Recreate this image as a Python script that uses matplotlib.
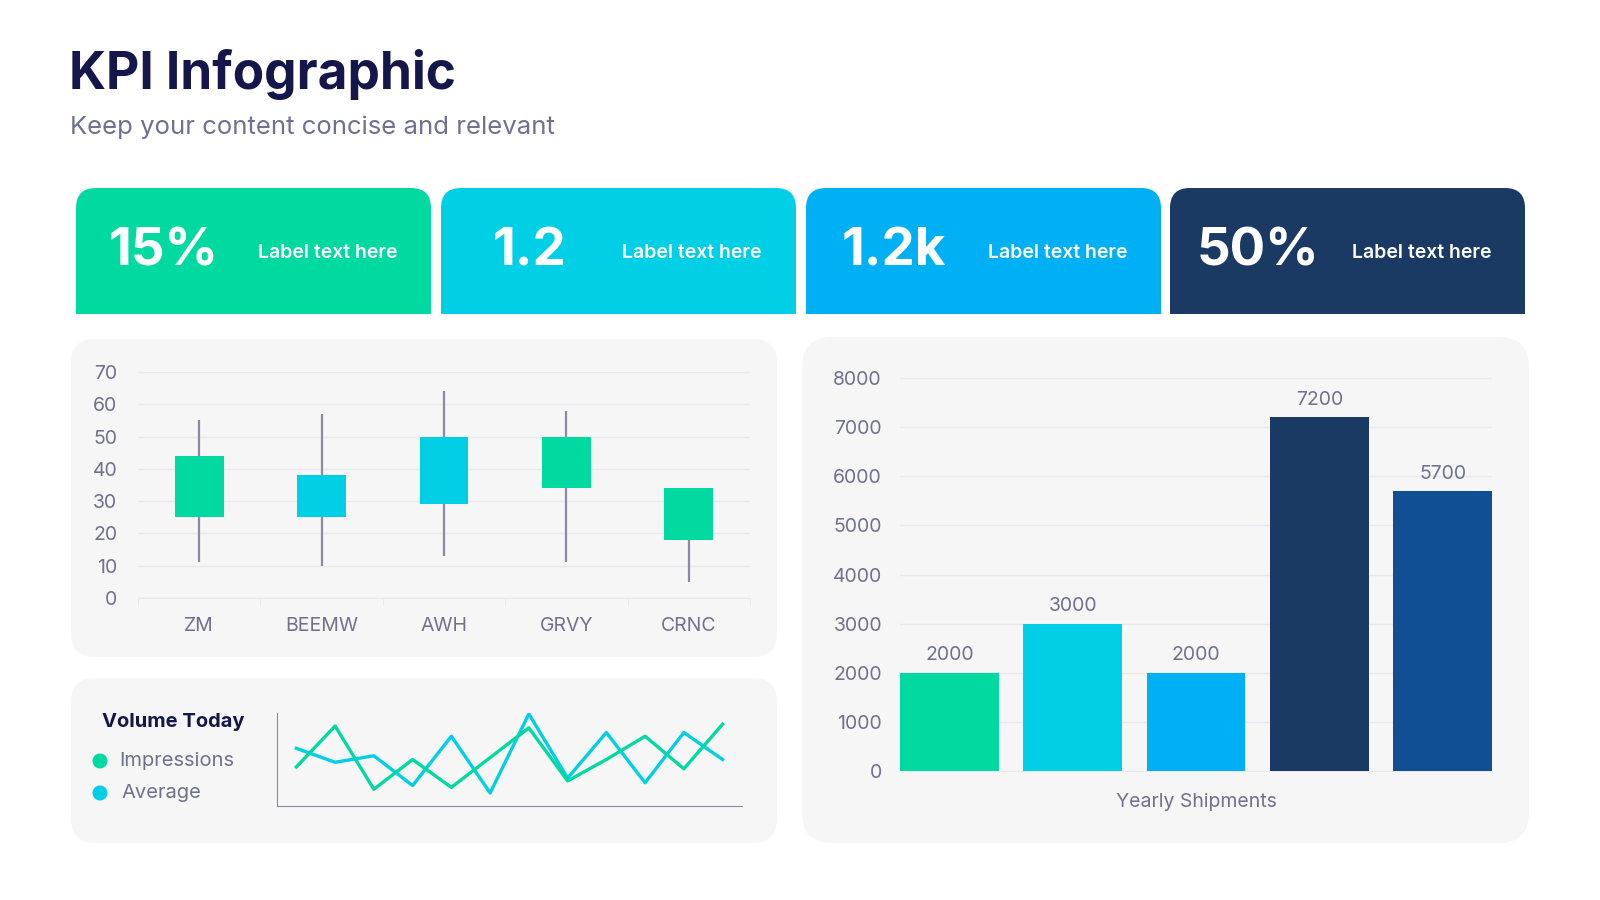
import matplotlib
matplotlib.use("Agg")
import matplotlib.pyplot as plt
from matplotlib.patches import FancyBboxPatch, Rectangle, Circle

plt.rcParams['font.family'] = ['Inter', 'DejaVu Sans']

# ---- data ----
kpi_values = ['15%', '1.2', '1.2k', '50%']
kpi_labels = ['Label text here', 'Label text here', 'Label text here', 'Label text here']

tickers = ['ZM', 'BEEMW', 'AWH', 'GRVY', 'CRNC']
opens = [25, 38, 50, 34, 18]
closes = [44, 25, 29, 50, 34]
highs = [55, 57, 64, 58, 34]
lows = [11, 10, 13, 11, 5]

impressions = [42, 86, 18, 50, 20, 52, 84, 27, 50, 75, 40, 88]
average = [62, 47, 54, 22, 75, 14, 99, 30, 79, 25, 79, 50]

shipments = [2000, 3000, 2000, 7200, 5700]

# ---- colours ----
GREEN = '#00D9A0'
CYAN = '#00CFE6'
SKY = '#00B0F5'
NAVY = '#1A3A64'
BLUE = '#114F94'
TITLE = '#15174A'
GREY = '#6E7191'
TICK = '#70718A'
PANEL = '#F6F6F7'
GRID = '#E8E8EE'
WICK = '#8A8BA3'

W, H = 1600, 900
fig = plt.figure(figsize=(16, 9), dpi=100)
fig.patch.set_facecolor('white')

bg = fig.add_axes([0, 0, 1, 1])
bg.set_xlim(0, W)
bg.set_ylim(H, 0)
bg.axis('off')


def px_axes(left, top, right, bottom):
    return fig.add_axes([left / W, (H - bottom) / H, (right - left) / W, (bottom - top) / H])


def rounded(x0, y0, x1, y1, color, r=24):
    p = FancyBboxPatch((x0 + r, y0 + r), (x1 - x0) - 2 * r, (y1 - y0) - 2 * r,
                       boxstyle='round,pad=%d' % r, fc=color, ec='none')
    bg.add_patch(p)


# title
bg.text(69, 74, 'KPI Infographic', fontsize=37, fontweight='bold', color=TITLE, va='center')
bg.text(70, 127, 'Keep your content concise and relevant', fontsize=18.5, color=GREY, va='center')

# kpi cards
card_colors = [GREEN, CYAN, SKY, NAVY]
card_left = [76, 441, 806, 1170]
for i in range(4):
    x0 = card_left[i]
    x1 = x0 + 355
    rounded(x0, 188, x1, 314, card_colors[i], r=20)
    bg.add_patch(Rectangle((x0, 260), 355, 54, fc=card_colors[i], ec='none'))
    bg.text(x0 + 88, 252, kpi_values[i], fontsize=38, fontweight='bold', color='white',
            ha='center', va='center')
    bg.text(x1 - 34, 253, kpi_labels[i], fontsize=14, fontweight='semibold', color='white',
            ha='right', va='center')

# panels
rounded(71, 339, 777, 657, PANEL, r=24)
rounded(71, 678, 777, 843, PANEL, r=24)
rounded(802, 337, 1529, 843, PANEL, r=30)

# ---- candlestick ----
ax1 = px_axes(138, 372, 750, 598)
ax1.set_facecolor('none')
x = range(len(tickers))
ax1.vlines(x, lows, highs, color=WICK, lw=1.6, zorder=2)
body_colors = [GREEN if c >= o else CYAN for o, c in zip(opens, closes)]
ax1.bar(x, [abs(c - o) for o, c in zip(opens, closes)],
        bottom=[min(o, c) for o, c in zip(opens, closes)],
        width=0.4, color=body_colors, zorder=3)
ax1.set_xlim(-0.5, 4.5)
ax1.set_ylim(0, 70)
ax1.set_yticks(range(0, 71, 10))
ax1.set_xticks(list(x))
ax1.set_xticklabels(tickers)
ax1.set_xticks([i - 0.5 for i in range(6)], minor=True)
ax1.grid(axis='y', color=GRID, lw=1)
ax1.set_axisbelow(True)
for s in ['top', 'right', 'left']:
    ax1.spines[s].set_visible(False)
ax1.spines['bottom'].set_color(GRID)
ax1.tick_params(axis='both', which='major', length=0, labelsize=14, labelcolor=TICK)
ax1.tick_params(axis='y', pad=15)
ax1.tick_params(axis='x', pad=14)
ax1.tick_params(axis='x', which='minor', length=6, color=GRID)

# ---- line chart ----
ax2 = px_axes(277, 713, 742, 806)
ax2.set_facecolor('none')
ax2.plot(range(len(impressions)), impressions, color=GREEN, lw=2.4, zorder=3)
ax2.plot(range(len(average)), average, color=CYAN, lw=2.4, zorder=2)
ax2.set_xlim(-0.5, 11.5)
ax2.set_ylim(0, 100)
ax2.set_xticks([])
ax2.set_yticks([])
for s in ['top', 'right']:
    ax2.spines[s].set_visible(False)
ax2.spines['left'].set_color(WICK)
ax2.spines['bottom'].set_color(WICK)

bg.text(102, 722, 'Volume Today', fontsize=14.5, fontweight='bold', color=TITLE, va='center')
bg.add_patch(Circle((100, 761), 7.5, fc=GREEN, ec='none'))
bg.add_patch(Circle((100, 793), 7.5, fc=CYAN, ec='none'))
bg.text(119, 761, 'Impressions', fontsize=14.5, color=TICK, va='center')
bg.text(121, 793, 'Average', fontsize=14.5, color=TICK, va='center')

# ---- bar chart ----
ax3 = px_axes(900, 378, 1492, 771)
ax3.set_facecolor('none')
bar_colors = [GREEN, CYAN, SKY, NAVY, BLUE]
bars = ax3.bar(range(len(shipments)), shipments, width=0.8, color=bar_colors, zorder=3)
for b, v in zip(bars, shipments):
    ax3.annotate(str(v), (b.get_x() + b.get_width() / 2, v), xytext=(0, 6),
                 textcoords='offset points', ha='center', va='bottom',
                 fontsize=14, color=TICK)
ax3.set_xlim(-0.4, 4.4)
ax3.set_ylim(0, 8000)
ax3.set_yticks(range(0, 8001, 1000))
ax3.set_xticks([])
ax3.set_xlabel('Yearly Shipments', fontsize=14, color=TICK, labelpad=16)
ax3.grid(axis='y', color=GRID, lw=1)
ax3.set_axisbelow(True)
for s in ['top', 'right', 'left']:
    ax3.spines[s].set_visible(False)
ax3.spines['bottom'].set_color(GRID)
ax3.tick_params(axis='y', length=0, labelsize=14, labelcolor=TICK, pad=13)

fig.savefig('out.png', dpi=100, facecolor='white')
